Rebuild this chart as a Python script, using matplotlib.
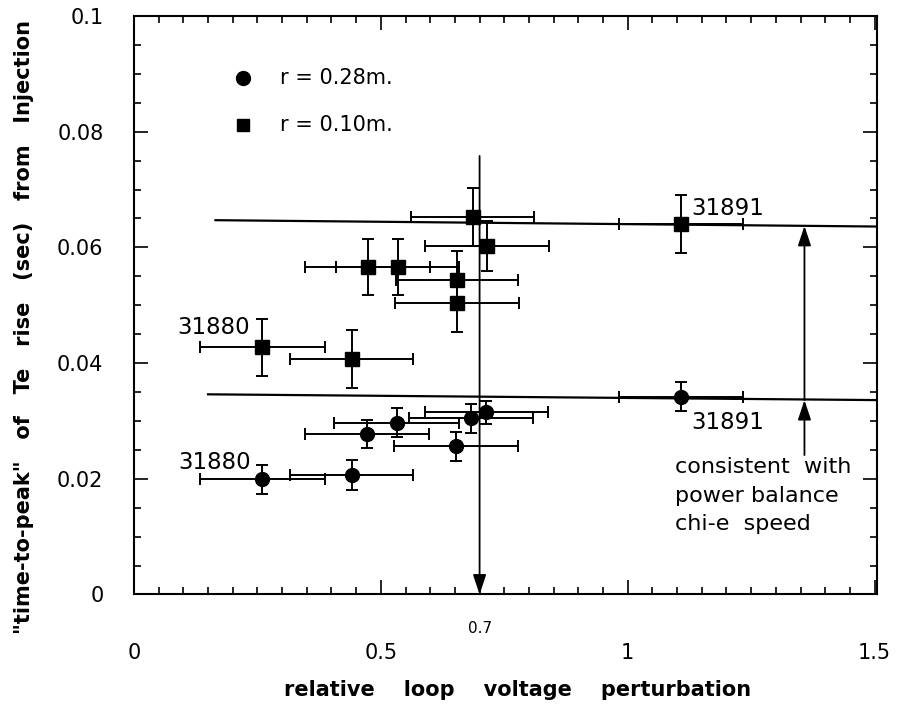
import matplotlib
matplotlib.use('Agg')
import matplotlib.pyplot as plt
from matplotlib.ticker import MultipleLocator

plt.rcParams['font.family'] = ['DejaVu Sans']

# r = 0.28 m (circles)
circ_x = [0.260, 0.441, 0.472, 0.532, 0.652, 0.683, 0.714, 1.108]
circ_y = [0.0199, 0.0207, 0.0278, 0.0297, 0.0256, 0.0305, 0.0315, 0.0342]
circ_xerr = [0.127, 0.125, 0.125, 0.126, 0.126, 0.125, 0.125, 0.126]
circ_yerr = [0.0025, 0.0026, 0.0024, 0.0025, 0.0025, 0.0025, 0.0020, 0.0025]

# r = 0.10 m (squares)
sq_x = [0.260, 0.441, 0.473, 0.534, 0.654, 0.654, 0.686, 0.715, 1.108]
sq_y = [0.0427, 0.0407, 0.0566, 0.0566, 0.0504, 0.0543, 0.0653, 0.0602, 0.0640]
sq_xerr = [0.127, 0.125, 0.126, 0.125, 0.125, 0.124, 0.125, 0.126, 0.126]
sq_yerr = [0.005, 0.005, 0.0048, 0.0048, 0.005, 0.005, 0.005, 0.0043, 0.005]

# guide lines through the 31891 shots
upper_line_x = [0.165, 1.51]
upper_line_y = [0.0647, 0.0636]
lower_line_x = [0.15, 1.51]
lower_line_y = [0.0346, 0.0336]

fig = plt.figure(figsize=(9.01, 7.10), dpi=100)
ax = fig.add_axes([0.1487, 0.1627, 0.8247, 0.8148])

ax.errorbar(circ_x, circ_y, xerr=circ_xerr, yerr=circ_yerr, fmt='o', color='black',
            ms=10, elinewidth=1.4, capsize=4, capthick=1.4)
ax.errorbar(sq_x, sq_y, xerr=sq_xerr, yerr=sq_yerr, fmt='s', color='black',
            ms=9.5, elinewidth=1.4, capsize=4, capthick=1.4)

ax.plot(upper_line_x, upper_line_y, color='black', lw=1.6)
ax.plot(lower_line_x, lower_line_y, color='black', lw=1.6)

arr = dict(arrowstyle='-|>,head_length=0.6,head_width=0.2', color='black', lw=1.3,
           shrinkA=0, shrinkB=0, mutation_scale=20)
ax.annotate('', xy=(0.7, 0.0), xytext=(0.7, 0.0758), arrowprops=arr)
ax.annotate('', xy=(1.358, 0.0637), xytext=(1.358, 0.0336), arrowprops=arr)
ax.annotate('', xy=(1.358, 0.0336), xytext=(1.358, 0.0241), arrowprops=arr)

ax.text(0.7, -0.0058, '0.7', ha='center', va='center', fontsize=11, clip_on=False)

ax.text(1.128, 0.0668, '31891', fontsize=16.5, va='center')
ax.text(1.128, 0.0297, '31891', fontsize=16.5, va='center')
ax.text(0.088, 0.0461, '31880', fontsize=16.5, va='center')
ax.text(0.090, 0.0228, '31880', fontsize=16.5, va='center')
ax.text(1.096, 0.0221, 'consistent  with', fontsize=16, va='center')
ax.text(1.096, 0.0170, 'power balance', fontsize=16, va='center')
ax.text(1.096, 0.0121, 'chi-e  speed', fontsize=16, va='center')

# legend
ax.plot([0.221], [0.0892], 'o', color='black', ms=10)
ax.plot([0.221], [0.0811], 's', color='black', ms=8.5)
ax.text(0.295, 0.0892, 'r = 0.28m.', fontsize=15, va='center')
ax.text(0.295, 0.0811, 'r = 0.10m.', fontsize=15, va='center')

ax.set_xlim(0, 1.505)
ax.set_ylim(0, 0.1)
ax.set_xticks([0, 0.5, 1, 1.5])
ax.set_xticklabels(['0', '0.5', '1', '1.5'])
ax.set_yticks([0, 0.02, 0.04, 0.06, 0.08, 0.1])
ax.set_yticklabels(['0', '0.02', '0.04', '0.06', '0.08', '0.1'])
ax.xaxis.set_minor_locator(MultipleLocator(0.05))
ax.yaxis.set_minor_locator(MultipleLocator(0.005))
ax.tick_params(which='both', direction='in', top=True, right=True, width=1.2)
ax.tick_params(which='major', length=10, labelsize=15)
ax.tick_params(which='minor', length=5)
ax.tick_params(axis='x', which='major', pad=35)
ax.tick_params(axis='y', which='major', pad=22)
for s in ax.spines.values():
    s.set_linewidth(1.5)

fig.text(0.574, 0.028, 'relative    loop    voltage    perturbation', ha='center', va='center',
         fontsize=15, fontweight='bold')
fig.text(0.027, 0.54, '"time-to-peak"   of   Te   rise   (sec)   from   Injection', ha='center',
         va='center', rotation=90, fontsize=15, fontweight='bold')

fig.savefig('out.png', dpi=100)
